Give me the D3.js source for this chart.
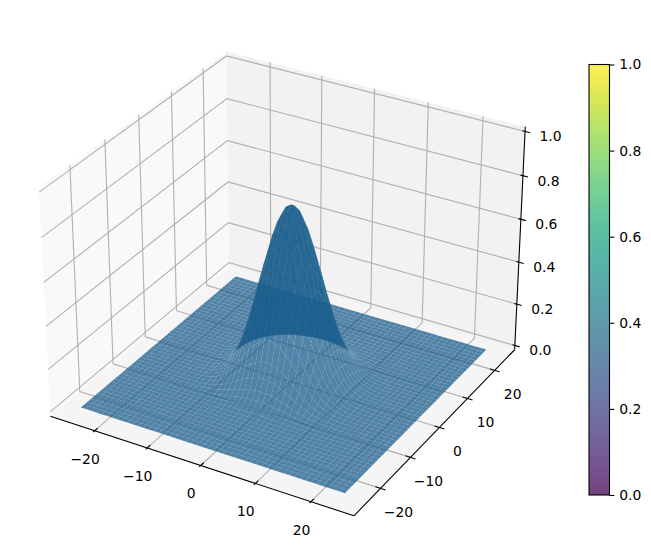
<!DOCTYPE html>
<html><head><meta charset="utf-8">
<script src="https://cdnjs.cloudflare.com/ajax/libs/d3/7.8.5/d3.min.js"></script>
<style>html,body{margin:0;padding:0;background:#fff}svg{display:block}text{font-family:"DejaVu Sans";font-size:13.9px;fill:#000}</style>
</head><body><svg id="c" width="651" height="559"></svg>
<script>
// ---- data ----
const xGrid = d3.range(-25, 25);
const yGrid = d3.range(-25, 25);
const profileX = [0,0,0,0,0,0,0,0,0,.001,.002,.005,.011,.023,.045,.082,.140,.222,.330,.455,.590,.715,.829,.920,.979,1,.979,.920,.829,.715,.590,.455,.330,.222,.140,.082,.045,.023,.011,.005,.002,.001,0,0,0,0,0,0,0,0];
const profileY = [0,0,0,0,0,0,0,0,0,.001,.002,.005,.011,.023,.045,.082,.140,.222,.330,.455,.590,.715,.829,.920,.979,1,.979,.920,.829,.715,.590,.455,.330,.222,.140,.082,.045,.023,.011,.005,.002,.001,0,0,0,0,0,0,0,0];
const peakHeight = 0.805;
const xTicks = [-20,-10,0,10,20];
const yTicks = [-20,-10,0,10,20];
const zTicks = [0,0.2,0.4,0.6,0.8,1.0];
const cbTicks = [0,0.2,0.4,0.6,0.8,1.0];

// ---- 3D camera ----
const xLim=[-27.45,26.45], yLim=[-27.45,26.45], zLim=[0,1];
const boxX=1.1905, boxY=1.1905, boxZ=0.8929, dist=10;
const sX=d3.scaleLinear().domain(xLim).range([0,boxX]);
const sY=d3.scaleLinear().domain(yLim).range([0,boxY]);
const sZ=d3.scaleLinear().domain(zLim).range([0,boxZ]);
const elev=30*Math.PI/180, azim=-60*Math.PI/180;
const n=[Math.cos(elev)*Math.cos(azim),Math.cos(elev)*Math.sin(azim),Math.sin(elev)];
const ul=Math.hypot(n[0],n[1]);
const u=[-n[1]/ul,n[0]/ul,0];
const v=[n[1]*u[2]-n[2]*u[1],n[2]*u[0]-n[0]*u[2],n[0]*u[1]-n[1]*u[0]];
const dot=(a,b)=>a[0]*b[0]+a[1]*b[1]+a[2]*b[2];
const screenX=d3.scaleLinear().domain([0,1]).range([287,287+2803]);
const screenY=d3.scaleLinear().domain([0,1]).range([272,272-2803]);
function proj(x,y,z){
  const p=[sX(x)-boxX/2,sY(y)-boxY/2,sZ(z)-boxZ/2];
  const d=dist-dot(p,n);
  return {x:screenX(dot(p,u)/d),y:screenY(dot(p,v)/d),d};
}
const pathOf=pts=>d3.line().x(p=>p.x).y(p=>p.y)(pts);
const svg=d3.select('#c');

// extended pane limits
const ex=(xLim[1]-xLim[0])/48, ey=(yLim[1]-yLim[0])/48, ez=(zLim[1]-zLim[0])/48;
const x0=xLim[0]-ex,x1=xLim[1]+ex,y0=yLim[0]-ey,y1=yLim[1]+ey,z0=zLim[0]-ez,z1=zLim[1]+ez;

// panes
const poly=(pts,fill)=>svg.append('path').attr('d',pathOf(pts.map(p=>proj(...p)))+'Z').attr('fill',fill);
poly([[x0,y0,z0],[x0,y1,z0],[x0,y1,z1],[x0,y0,z1]],'#f9f9f9');
poly([[x0,y1,z0],[x1,y1,z0],[x1,y1,z1],[x0,y1,z1]],'#f2f2f2');
poly([[x0,y0,z0],[x1,y0,z0],[x1,y1,z0],[x0,y1,z0]],'#f5f5f5');

// grid
const gridPath=(pts)=>svg.append('path').attr('d',pathOf(pts.map(p=>proj(...p)))).attr('fill','none').attr('stroke','#b0b0b0').attr('stroke-width',1.1);
xTicks.forEach(t=>gridPath([[t,y0,z0],[t,y1,z0],[t,y1,z1]]));
yTicks.forEach(t=>gridPath([[x1,t,z0],[x0,t,z0],[x0,t,z1]]));
zTicks.forEach(t=>gridPath([[x0,y0,t],[x0,y1,t],[x1,y1,t]]));

// axis lines
const axPath=(pts)=>svg.append('path').attr('d',pathOf(pts.map(p=>proj(...p)))).attr('fill','none').attr('stroke','#000').attr('stroke-width',1.1);
axPath([[x0,y0,z0],[x1,y0,z0]]);
axPath([[x1,y0,z0],[x1,y1,z0]]);
axPath([[x1,y1,z0],[x1,y1,z1]]);

// ticks and labels
const fmtInt=t=>(t<0?'\u2212':'')+Math.abs(t);
const label=(a,txt,dx,dy)=>svg.append('text').attr('x',a.x+dx).attr('y',a.y+dy).attr('dy','.35em').attr('text-anchor','middle').text(txt);
const dT=(xLim[1]-xLim[0])/12;
xTicks.forEach(t=>{axPath([[t,y0+.2*dT,z0],[t,y0-.1*dT,z0]]);label(proj(t,y0,z0),fmtInt(t),-9.5,28);});
yTicks.forEach(t=>{axPath([[x1-.2*dT,t,z0],[x1+.2*dT,t,z0]]);label(proj(x1,t,z0),fmtInt(t),18,24);});
zTicks.forEach(t=>{axPath([[x1-.1*dT,y1,t],[x1+.2*dT,y1,t]]);label(proj(x1,y1,t),t.toFixed(1),25.5,5);});

// surface
const light=[.667,-.667,.3333];
const base=[31,119,180], alpha=0.75;
const quads=[];
for(let i=0;i<xGrid.length-1;i++)for(let j=0;j<yGrid.length-1;j++){
  const c=[[i,j],[i+1,j],[i+1,j+1],[i,j+1]].map(([a,b])=>[xGrid[a],yGrid[b],peakHeight*profileX[a]*profileY[b]]);
  const a1=[c[2][0]-c[0][0],c[2][1]-c[0][1],c[2][2]-c[0][2]];
  const a2=[c[3][0]-c[1][0],c[3][1]-c[1][1],c[3][2]-c[1][2]];
  const nn=[a1[1]*a2[2]-a1[2]*a2[1],a1[2]*a2[0]-a1[0]*a2[2],a1[0]*a2[1]-a1[1]*a2[0]];
  const nl=Math.hypot(...nn);
  const s=dot(nn,light)/nl;
  const f=.3+.7*(s+1)/2;
  const pts=c.map(p=>proj(...p));
  quads.push({pts,depth:d3.mean(pts,p=>p.d),f});
}
quads.sort((a,b)=>b.depth-a.depth);
svg.append('g').selectAll('path').data(quads).join('path')
  .attr('d',q=>pathOf(q.pts)+'Z')
  .attr('fill',q=>`rgb(${base.map(b=>Math.round(b*q.f)).join(',')})`)
  .attr('fill-opacity',alpha)
  .attr('stroke','#fff').attr('stroke-opacity',0.04).attr('stroke-width',0.6);

// colour bar
const cbY=d3.scaleLinear().domain([0,1]).range([495,64.5]);
const cbL=589, cbW=20.5;
const steps=d3.range(0,33).map(i=>i/32);
const grad=svg.append('defs').append('linearGradient').attr('id','vir').attr('x1',0).attr('y1',1).attr('x2',0).attr('y2',0);
grad.selectAll('stop').data(steps).join('stop')
  .attr('offset',s=>s).attr('stop-color',s=>d3.interpolateViridis(s)).attr('stop-opacity',alpha);
svg.append('rect').attr('x',cbL).attr('y',cbY(1)).attr('width',cbW).attr('height',cbY(0)-cbY(1)).attr('fill','url(#vir)').attr('stroke','#000').attr('stroke-width',1.1);
const cbAxis=d3.axisRight(cbY).tickValues(cbTicks).tickFormat(d3.format('.1f')).tickSize(4.9).tickPadding(4.8);
const g=svg.append('g').attr('transform',`translate(${cbL+cbW},0)`).call(cbAxis);
g.select('.domain').remove();
g.selectAll('line').attr('stroke','#000').attr('stroke-width',1.1);
g.selectAll('text').style('font-family','DejaVu Sans').style('font-size','13.9px').attr('fill','#000');
</script></body></html>
